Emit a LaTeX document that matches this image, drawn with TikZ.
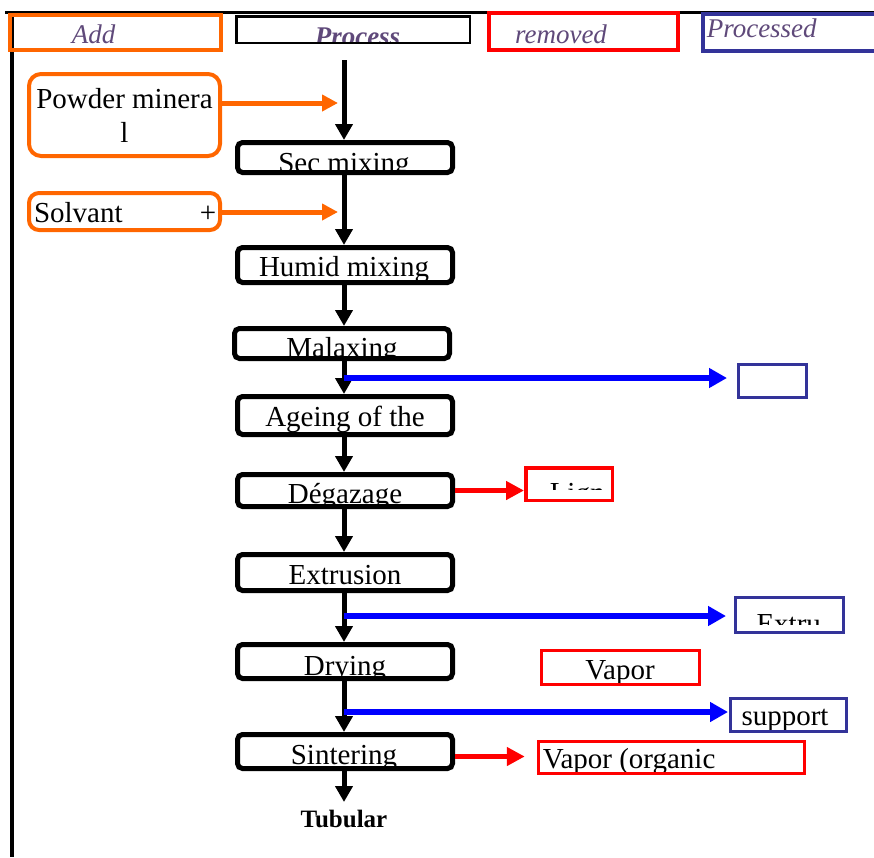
\documentclass[tikz,border=0pt]{standalone}
\usepackage{fontspec}
\setmainfont{Liberation Serif}
\usetikzlibrary{arrows.meta}

\definecolor{orng}{HTML}{FF6600}
\definecolor{navy}{HTML}{333399}
\definecolor{headcol}{HTML}{5F497A}
\newcommand{\bigtxt}{\fontsize{29}{34}\selectfont}
\newcommand{\hfont}{\fontsize{27}{30}\selectfont\itshape\color{headcol}}

% text inside a box, clipped by the box; (#2,#3) is measured from the box centre
\tikzset{
  inner/.style={draw=none, inner sep=0pt, minimum width=0pt, minimum height=0pt, font=\bigtxt},
  intext/.style n args={4}{path picture={\node[inner, anchor=#1] at (#2,#3) {#4};}},
  pbox/.style={draw, line width=5pt, rounded corners=5pt, minimum width=215pt, inner sep=0pt},
  obox/.style={draw=orng, line width=4pt, rounded corners=10pt, inner sep=0pt},
  rbox/.style={draw=red, line width=3.5pt, inner sep=0pt},
  nbox/.style={draw=navy, line width=3pt, inner sep=0pt},
  flow/.style={line width=5pt, -{Triangle[length=16pt,width=17pt]}},
  bflow/.style={blue, line width=6pt, -{Triangle[length=18pt,width=19pt]}},
  rflow/.style={red, line width=5pt, -{Triangle[length=18pt,width=18pt]}},
  oflow/.style={orng, line width=5pt, -{Triangle[length=16pt,width=16pt]}}
}

\begin{document}
\begin{tikzpicture}[x=1pt, y=-1pt, font=\bigtxt]
    \useasboundingbox (0,0) rectangle (874,857);
    % frame
    \draw[line width=3pt] (5,12) -- (874,12);
    \draw[line width=4pt] (12,12) -- (12,857);

    % column heads
    \node[draw=orng, line width=4pt, minimum width=211pt, minimum height=35pt,
          intext={base}{-22}{10.5}{\hfont Add}] (addh) at (115.5,32.5) {};
    \node[draw, line width=2.5pt, minimum width=233.5pt, minimum height=26.5pt,
          intext={base}{4.5}{15.5}{\hfont\bfseries Process}] (proch) at (353,29.5) {};
    \node[draw=red, line width=4.5pt, minimum width=189pt, minimum height=37pt,
          intext={base}{-22.5}{11.5}{\hfont removed}] (remh) at (583.5,31.5) {};
    \node[draw=navy, line width=3.5pt, minimum width=175pt, minimum height=37pt,
          intext={base west}{-85.5}{4.5}{\hfont Processed}] (procdh) at (790.5,32.5) {};

    % inputs
    \node[obox, rounded corners=12pt, minimum width=191pt, minimum height=82pt,
          align=center, font=\fontsize{29}{34}\selectfont] (powder) at (124.5,115) {Powder minera\\l};
    \node[obox, minimum width=191pt, minimum height=37pt,
          path picture={\node[inner, anchor=base west] (solvt) at (-92.5,10.5) {Solvant};
                        \node[inner, anchor=base] (plus) at (83.5,10.5) {+};}] (solv) at (124.5,211.5) {};

    % process steps
    \node[pbox, minimum height=30pt, intext={base}{-1}{14.5}{Sec mixing}] (sec) at (345,157.5) {};
    \node[pbox, minimum height=35pt, intext={base}{-1}{11}{Humid mixing}] (humid) at (345,265) {};
    \node[pbox, minimum height=30pt, intext={base}{0}{13.5}{Malaxing}] (malax) at (342,343.5) {};
    \node[pbox, minimum height=38pt, intext={base}{0}{10.5}{Ageing of the}] (ageing) at (345,415.5) {};
    \node[pbox, minimum height=32pt, intext={base}{0}{12.5}{Dégazage}] (degaz) at (345,490.5) {};
    \node[pbox, minimum height=36pt, intext={base}{0}{11.5}{Extrusion}] (extr) at (345,572.5) {};
    \node[pbox, minimum height=34pt, intext={base}{0}{13.5}{Drying}] (dry) at (345,661.5) {};
    \node[pbox, minimum height=34pt, intext={base}{-1}{12.5}{Sintering}] (sint) at (345,751.5) {};
    \node[font=\fontsize{25}{28}\selectfont\bfseries, anchor=base] (tub) at (344,827) {Tubular};

    % outputs
    \node[nbox, minimum width=68pt, minimum height=33pt] (nb1) at (772.5,381) {};
    \node[nbox, minimum width=108pt, minimum height=35pt,
          path picture={\clip (-59.5,-25) rectangle (60.5,9);
                        \node[inner, anchor=base west] (extt) at (-34.5,18) {Extru};}] (nb2) at (789.5,615) {};
    \node[nbox, minimum width=116pt, minimum height=33pt,
          intext={base west}{-48.5}{10}{support}] (nb3) at (788.5,715) {};
    \node[rbox, minimum width=86.5pt, minimum height=32.5pt,
          path picture={\clip (-49,-24) rectangle (51,5);
                        \node[inner, anchor=base west] (lignt) at (-21,18) {Lign};}] (lign) at (569,484) {};
    \node[rbox, minimum width=158pt, minimum height=34pt,
          intext={base}{-0.5}{11.5}{Vapor}] (vap) at (620.5,667.5) {};
    \node[rbox, minimum width=266pt, minimum height=32pt,
          intext={base west}{-130.5}{10.5}{Vapor (organic}] (vorg) at (671.5,757.5) {};

    % main flow
    \coordinate (start) at (344,60);
    \coordinate (tubtip) at (344,802);
    \draw[flow] (start) -- (start |- sec.north);
    \draw[flow] (sec.south -| start) -- (humid.north -| start);
    \draw[flow] (humid.south -| start) -- (malax.north -| start);
    \draw[flow] (malax.south -| start) -- (ageing.north -| start);
    \draw[flow] (ageing.south -| start) -- (degaz.north -| start);
    \draw[flow] (degaz.south -| start) -- (extr.north -| start);
    \draw[flow] (extr.south -| start) -- (dry.north -| start);
    \draw[flow] (dry.south -| start) -- (sint.north -| start);
    \draw[flow] (sint.south -| start) -- (tubtip);

    % side flows
    \coordinate (pin) at (338,103);
    \coordinate (sin) at (338,212);
    \draw[oflow] (pin -| powder.east) -- (pin);
    \draw[oflow] (sin -| solv.east) -- (sin);

    \coordinate (br1) at (344,378);
    \coordinate (br2) at (344,616);
    \coordinate (br3) at (344,712);
    \draw[bflow, shorten >=10pt] (br1) -- (br1 -| nb1.west);
    \draw[bflow, shorten >=8pt] (br2) -- (br2 -| nb2.west);
    \draw[bflow, shorten >=1pt] (br3) -- (br3 -| nb3.west);

    \draw[rflow] (degaz.east) -- (degaz.east -| lign.west);
    \draw[rflow, shorten >=12pt] ([yshift=-5pt]sint.east) -- ([yshift=-5pt]sint.east -| vorg.west);
\end{tikzpicture}
\end{document}
